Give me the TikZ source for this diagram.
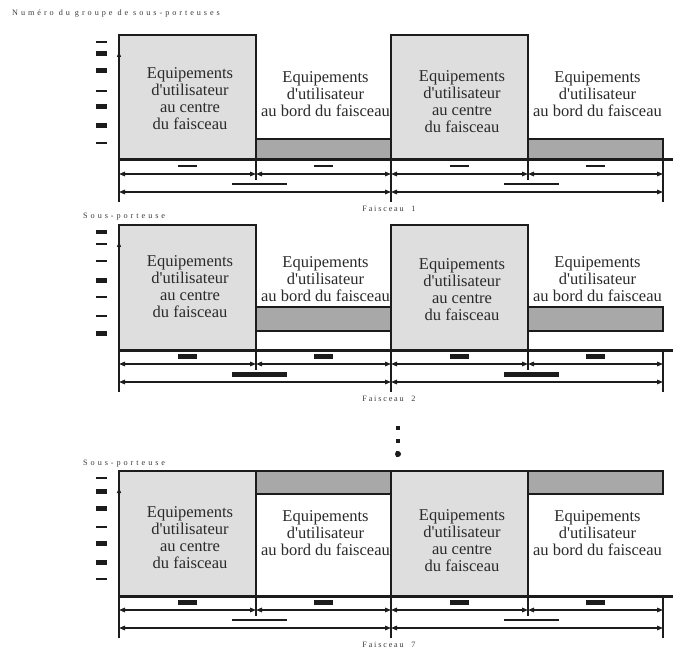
\documentclass[tikz,border=0pt]{standalone}
\usepackage{fontspec}
\setmainfont{Liberation Serif}[Ligatures=TeXOff]
\newfontfamily\spacedfont{Liberation Serif}[LetterSpace=36]
\newfontfamily\beamfont{Liberation Serif}[LetterSpace=22]
\usetikzlibrary{arrows.meta}

\definecolor{inkc}{HTML}{1C1C1C}
\definecolor{textc}{HTML}{2A2A2A}
\definecolor{labelc}{HTML}{3A3A3A}
\definecolor{centerfill}{HTML}{DEDEDE}
\definecolor{edgefill}{HTML}{A8A8A8}

\tikzset{
  zonebox/.style={draw=inkc, line width=2pt, fill=centerfill},
  edgebar/.style={draw=inkc, line width=2pt, fill=edgefill},
  baseln/.style={draw=inkc, line width=3pt},
  vline/.style={draw=inkc, line width=2pt},
  dimarrow/.style={draw=inkc, line width=1.4pt,
    {Triangle[length=6pt,width=4.5pt]}-{Triangle[length=6pt,width=4.5pt]}},
  axisarrow/.style={draw=inkc, line width=2pt, -{Triangle[length=5pt,width=4pt]}},
  zonetext/.style={align=center, font=\fontsize{16.5}{17}\selectfont,
    text=textc, inner sep=0pt},
  smalllabel/.style={font=\spacedfont\fontsize{8.2}{10}\selectfont,
    text=labelc, inner sep=0pt},
  beamlabel/.style={font=\beamfont\fontsize{8.2}{10}\selectfont,
    text=labelc, inner sep=0pt},
  markfill/.style={fill=inkc}
}

% One beam panel, top edge at y=0 and baseline at y=125 (local units).
% #1 name prefix, #2 beam number, #3/#4 top/bottom of the edge bars,
% #5 list of subcarrier marks (y/thickness), #6 small-mark thickness,
% #7 long-mark thickness, #8 centre-text y, #9 edge-text y
\newcommand\beampanel[9]{%
  \coordinate (#1-b0) at (119,125);
  \coordinate (#1-b1) at (256,125);
  \coordinate (#1-b2) at (391,125);
  \coordinate (#1-b3) at (528,125);
  \coordinate (#1-b4) at (663,125);
  \coordinate (#1-b5) at (673,125);
  \coordinate (#1-v0) at (119,167);
  \coordinate (#1-v1) at (256,145);
  \coordinate (#1-v2) at (391,167);
  \coordinate (#1-v3) at (528,145);
  \coordinate (#1-v4) at (663,167);
  \coordinate (#1-top) at (119,17);
  \coordinate (#1-r0) at (119,139);
  \coordinate (#1-r1) at (256,139);
  \coordinate (#1-r2) at (391,139);
  \coordinate (#1-r3) at (528,139);
  \coordinate (#1-r4) at (663,139);
  \coordinate (#1-s0) at (119,157);
  \coordinate (#1-s2) at (391,157);
  \coordinate (#1-s4) at (663,157);
  % edge-user bars
  \draw[edgebar] (256,#3) rectangle (391,#4);
  \draw[edgebar] (528,#3) rectangle (663,#4);
  % centre-user blocks
  \draw[zonebox] (119,0) rectangle (256,125);
  \draw[zonebox] (391,0) rectangle (528,125);
  % frequency axis and baseline
  \draw[axisarrow] (#1-v0) -- (#1-top);
  \draw[baseln] (#1-b0) -- (#1-b5);
  \draw[vline] (#1-b1) -- (#1-v1);
  \draw[vline] (#1-b2) -- (#1-v2);
  \draw[vline] (#1-b3) -- (#1-v3);
  \draw[vline] (#1-b4) -- (#1-v4);
  % subcarrier marks
  \foreach \ty/\th in {#5} {
    \fill[markfill] (96,{\ty-\th/2}) rectangle (107,{\ty+\th/2});
  }
  % width dimensions
  \draw[dimarrow] (#1-r0) -- (#1-r1);
  \draw[dimarrow] (#1-r1) -- (#1-r2);
  \draw[dimarrow] (#1-r2) -- (#1-r3);
  \draw[dimarrow] (#1-r3) -- (#1-r4);
  \draw[dimarrow] (#1-s0) -- (#1-s2);
  \draw[dimarrow] (#1-s2) -- (#1-s4);
  \foreach \cx in {187.5,323.5,459.5,595.5} {
    \fill[markfill] ({\cx-9.5},{131-#6/2}) rectangle ({\cx+9.5},{131+#6/2});
  }
  \foreach \cx in {259.5,531} {
    \fill[markfill] ({\cx-27.5},{149-#7/2}) rectangle ({\cx+27.5},{149+#7/2});
  }
  % zone texts
  \node[zonetext] (#1-c1) at (190,{#8}) {Equipements\\d'utilisateur\\au centre\\du faisceau};
  \node[zonetext] (#1-c2) at (462,{#8+3}) {Equipements\\d'utilisateur\\au centre\\du faisceau};
  \node[zonetext] (#1-e1) at (325.5,{#9-1}) {Equipements\\d'utilisateur\\au bord du faisceau};
  \node[zonetext] (#1-e2) at (597.5,{#9-1}) {Equipements\\d'utilisateur\\au bord du faisceau};
  \node[beamlabel] (#1-beam) at (389,174) {Faisceau\ \ #2};
}

\begin{document}
\begin{tikzpicture}[x=1pt,y=-1pt]
  \useasboundingbox (0,0) rectangle (673,650);

  \node[smalllabel, anchor=west] (title) at (12,14) {Numéro du groupe de sous-porteuses};

  \begin{scope}[shift={(0,35)}]
    \beampanel{pa}{1}{104}{125}
      {7/2.5,19/5,36/5,56/2.5,72/5,91/5,108/2.5}{2.5}{2.5}{64}{60}
  \end{scope}

  \node[smalllabel, anchor=west] (sp2) at (83,217) {Sous-porteuse};
  \begin{scope}[shift={(0,225)}]
    \beampanel{pb}{2}{82}{106}
      {7/4,19/2.5,36/2.5,56/5,72/2.5,91/2.5,108/5}{5}{5}{62}{55}
  \end{scope}

  % vertical ellipsis between beams
  \fill[inkc] (396,426) rectangle (400,430);
  \fill[inkc] (396,439) rectangle (400,443);
  \fill[inkc] (396,451) rectangle (398,457);
  \fill[inkc] (398,454) circle[radius=3];

  \node[smalllabel, anchor=west] (sp3) at (83,464) {Sous-porteuse};
  \begin{scope}[shift={(0,471)}]
    \beampanel{pc}{7}{0}{23}
      {7/2.5,20/5,37/5,56/2.5,72/5,91/5,108/2.5}{5}{2.5}{67}{63}
  \end{scope}
\end{tikzpicture}
\end{document}
